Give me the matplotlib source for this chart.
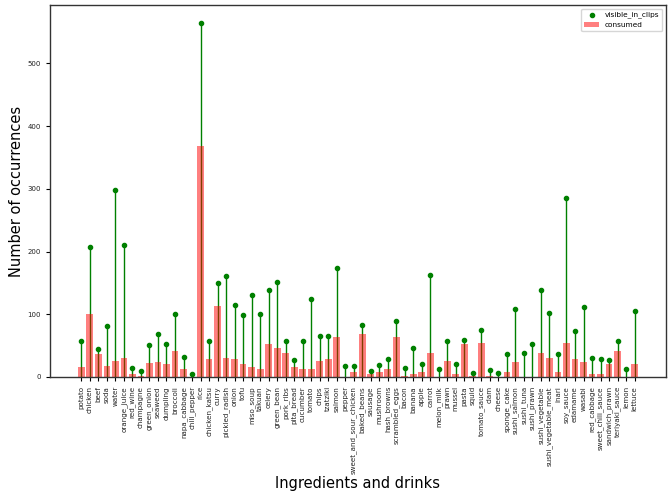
import matplotlib
matplotlib.use("Agg")
import matplotlib.pyplot as plt

# Food and drink items
labels = [
    "potato", "chicken", "beef", "soda", "water", "orange_juice", "red_wine",
    "champagne", "green_onion", "seaweed", "dumpling", "broccoli",
    "napa_cabbage", "chili_pepper", "rice", "chicken_katsu", "curry",
    "pickled_radish", "onion", "tofu", "miso_soup", "takuan", "celery",
    "green_bean", "pork_ribs", "pita_bread", "cucumber", "tomato", "chips",
    "tzatziki", "salmon", "pepper", "sweet_and_sour_chicken", "baked_beans",
    "sausage", "mushroom", "hash_browns", "scrambled_eggs", "bacon", "banana",
    "apple", "carrot", "melon_milk", "prawn", "mussel", "pasta", "squid",
    "tomato_sauce", "clam", "cheese", "sponge_cake", "sushi_salmon",
    "sushi_tuna", "sushi_prawn", "sushi_vegetable", "sushi_vegetable_meat",
    "inari", "soy_sauce", "edamame", "wasabi", "red_cabbage",
    "sweet_chili_sauce", "sandwich_prawn", "teriyaki_sauce", "lemon", "lettuce",
]

# how often each item is seen in the clips
visible_in_clips = [
    57, 208, 44, 82, 298, 210, 15, 9, 51, 68, 53, 100,
    32, 5, 565, 57, 150, 161, 115, 99, 130, 100, 138,
    151, 57, 27, 58, 124, 65, 65, 174, 18, 18, 83,
    9, 19, 28, 90, 14, 46, 20, 163, 12, 57, 21, 59, 7,
    75, 11, 6, 36, 109, 39, 53, 139, 102,
    37, 285, 74, 111, 30, 28, 27, 58, 12, 105,
]

# how often each item is actually consumed
consumed = [
    16, 100, 37, 18, 26, 31, 4, 2, 23, 24, 21, 41,
    13, 0, 369, 29, 114, 31, 28, 20, 16, 12, 52,
    47, 39, 16, 13, 13, 26, 28, 63, 0, 8, 68,
    5, 8, 12, 63, 2, 5, 8, 39, 0, 26, 4, 52, 2,
    55, 2, 0, 8, 24, 0, 0, 39, 31,
    8, 55, 29, 24, 5, 5, 21, 41, 0, 20,
]

x = list(range(len(labels)))

fig = plt.figure(figsize=(6.71, 4.93), dpi=100)
ax = fig.add_axes([0.0745, 0.2353, 0.918, 0.7547])

ax.vlines(x, 0, visible_in_clips, color="green", linewidth=1.0, zorder=1)
ax.scatter(x, visible_in_clips, color="green", s=9, zorder=3,
           label="visible_in_clips")
ax.bar(x, consumed, width=0.8, color="red", alpha=0.5, zorder=2,
       label="consumed")

for spine in ax.spines.values():
    spine.set_color("#333333")
    spine.set_linewidth(1.0)

ax.set_xticks(x)
ax.set_xticklabels(labels, rotation=90, fontsize=5.1, color="#222222")
ax.tick_params(axis="y", labelsize=5, labelcolor="#222222")
ax.tick_params(length=3)
ax.set_xlabel("Ingredients and drinks", fontsize=10.5)
ax.set_ylabel("Number of occurrences", fontsize=10.5)
ax.xaxis.set_label_coords(0.5, -0.266)
ax.yaxis.set_label_coords(-0.042, 0.5)
ax.legend(loc="upper right", fontsize=5.3)

fig.savefig("out.png", dpi=100)
